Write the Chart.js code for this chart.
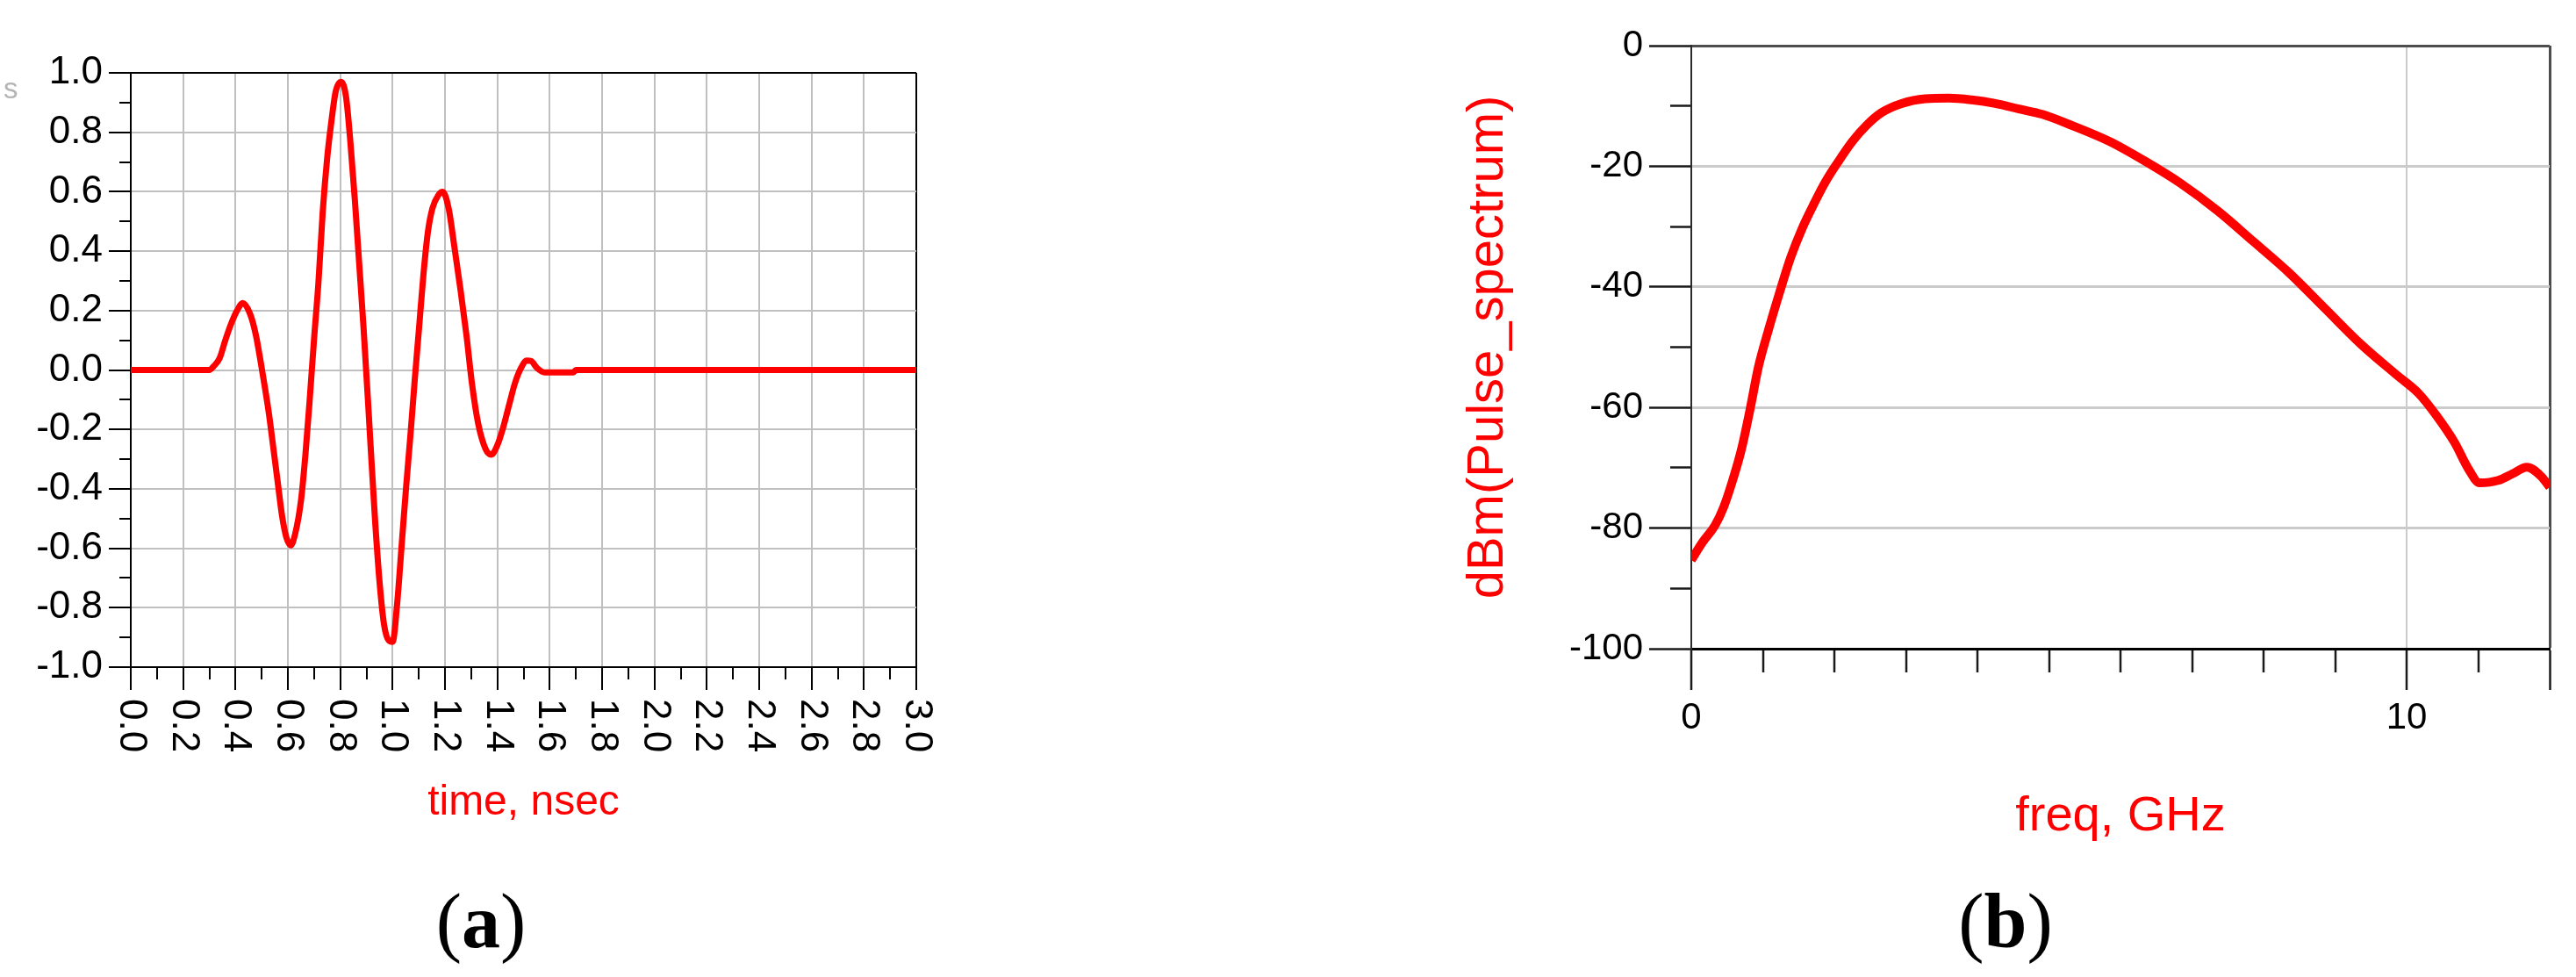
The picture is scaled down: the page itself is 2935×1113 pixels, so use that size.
<!DOCTYPE html>
<html>
<head>
<meta charset="utf-8">
<title>Pulse and spectrum</title>
<script src="https://cdn.jsdelivr.net/npm/chart.js@4.4.1/dist/chart.umd.min.js"></script>
<style>
  html, body { margin: 0; padding: 0; background: #fff; overflow: hidden; }
  body { width: 2935px; height: 1113px; position: relative; font-family: 'Liberation Sans', Arial, sans-serif; }
  canvas { position: absolute; top: 0; }
  #pulseChart { left: 0; }
  #spectrumChart { left: 1600px; }
  .panel-tag { position: absolute; top: 1006px; width: 200px; text-align: center;
    font-family: 'Liberation Serif', 'Times New Roman', serif; font-size: 88px; line-height: 88px; color: #000; }
  .panel-tag b { font-weight: bold; }
  #stray { position: absolute; left: 4px; top: 84px; font-size: 33px; line-height: 33px; color: #b4b4b4; }
</style>
</head>
<body>
<canvas id="pulseChart" width="1100" height="1000"></canvas>
<canvas id="spectrumChart" width="1335" height="1000"></canvas>
<div id="stray">s</div>
<div class="panel-tag" style="left:448px">(<b>a</b>)</div>
<div class="panel-tag" style="left:2185px">(<b>b</b>)</div>
<script>
// (a) time-domain pulse
const timeNs = [0, 0.30, 0.317, 0.339, 0.361, 0.383, 0.406, 0.428, 0.456, 0.478,
  0.494, 0.511, 0.528, 0.544, 0.561, 0.578, 0.594, 0.611, 0.628, 0.65,
  0.667, 0.683, 0.70, 0.717, 0.733, 0.75, 0.767, 0.783, 0.803, 0.822,
  0.839, 0.856, 0.872, 0.889, 0.906, 0.917, 0.933, 0.95, 0.967, 0.985,
  1.0, 1.017, 1.034, 1.051, 1.068, 1.084, 1.101, 1.118, 1.135, 1.152,
  1.175, 1.191, 1.214, 1.236, 1.259, 1.282, 1.304, 1.327, 1.355, 1.377,
  1.40, 1.422, 1.445, 1.467, 1.49, 1.512, 1.529, 1.552, 1.58, 1.69,
  1.70, 3.0];
const pulseV = [0, 0, 0.013, 0.039, 0.10, 0.155, 0.20, 0.225, 0.188, 0.117,
  0.039, -0.052, -0.149, -0.259, -0.376, -0.492, -0.563, -0.59, -0.551, -0.44,
  -0.285, -0.104, 0.104, 0.298, 0.531, 0.712, 0.842, 0.939, 0.97, 0.92,
  0.764, 0.57, 0.363, 0.142, -0.104, -0.272, -0.505, -0.712, -0.855, -0.91,
  -0.915, -0.79, -0.596, -0.40, -0.22, -0.039, 0.142, 0.324, 0.466, 0.544,
  0.589, 0.60, 0.544, 0.414, 0.272, 0.117, -0.052, -0.181, -0.266, -0.285,
  -0.253, -0.194, -0.117, -0.045, 0.006, 0.032, 0.03, 0.006, -0.008, -0.008,
  0, 0];
const timeTickLabels = ['0.0', '0.2', '0.4', '0.6', '0.8', '1.0', '1.2', '1.4',
  '1.6', '1.8', '2.0', '2.2', '2.4', '2.6', '2.8', '3.0'];
const voltTickLabels = ['-1.0', '-0.8', '-0.6', '-0.4', '-0.2', '0.0',
  '0.2', '0.4', '0.6', '0.8', '1.0'];

// (b) spectrum
const freqGHz = [0, 0.16, 0.33, 0.45, 0.57, 0.70, 0.82, 0.94, 1.08, 1.23,
  1.39, 1.55, 1.72, 1.88, 2.04, 2.25, 2.45, 2.66, 2.94, 3.27,
  3.60, 3.92, 4.25, 4.58, 4.91, 5.25, 5.85, 6.35, 6.85, 7.36,
  7.86, 8.36, 8.86, 9.37, 9.87, 10.17, 10.42, 10.67, 10.87, 11.02,
  11.28, 11.48, 11.68, 11.88, 12.0];
const spectrumDbm = [-85.3, -82.3, -79.6, -76.6, -72.4, -67, -60.4, -53.2, -47.1, -41.1,
  -35.1, -30.3, -26.1, -22.5, -19.5, -15.9, -13.2, -11.1, -9.6, -8.8,
  -8.7, -9.0, -9.6, -10.5, -11.4, -12.9, -15.9, -19.2, -22.9, -27.4,
  -32.5, -37.7, -43.6, -49.6, -54.7, -57.7, -61.4, -65.8, -70.3, -72.5,
  -72.1, -71, -69.9, -71.4, -73.2];
const freqTickValues = [0, 10];
const freqTickLabels = ['0', '10'];
const dbmTickLabels = ['-100', '-80', '-60', '-40', '-20', '0'];

Chart.defaults.font.family = "'Liberation Sans', Arial, sans-serif";
Chart.defaults.color = '#000';

var RED = '#ff0000';
var GRID_A = '#c0c0c0';
var GRID_B = '#cbcbcb';

function xyPoints(xs, ys) {
  return xs.map(function (x, i) { return { x: x, y: ys[i] }; });
}

// x tick labels of (a) read top-to-bottom, which Chart.js rotation can't do
var rotatedTimeLabels = {
  id: 'rotatedTimeLabels',
  afterDraw: function (chart) {
    var ctx = chart.ctx;
    var xs = chart.scales.x;
    ctx.save();
    ctx.font = "44px 'Liberation Sans', Arial, sans-serif";
    ctx.fillStyle = '#000';
    ctx.textAlign = 'left';
    ctx.textBaseline = 'middle';
    timeTickLabels.forEach(function (lbl) {
      var px = xs.getPixelForValue(parseFloat(lbl));
      ctx.save();
      ctx.translate(px, xs.top + 36);
      ctx.rotate(Math.PI / 2);
      ctx.fillText(lbl, 0, 0);
      ctx.restore();
    });
    ctx.restore();
  }
};

/* ---------------- (a) pulse ---------------- */
new Chart(document.getElementById('pulseChart'), {
  type: 'line',
  data: {
    datasets: [{
      data: xyPoints(timeNs, pulseV),
      borderColor: RED,
      borderWidth: 7,
      pointRadius: 0,
      cubicInterpolationMode: 'monotone',
      fill: false
    }]
  },
  options: {
    responsive: false,
    animation: false,
    devicePixelRatio: 1,
    layout: { padding: { top: 83, right: 56, left: 0, bottom: 0 } },
    plugins: { legend: { display: false }, tooltip: { enabled: false } },
    scales: {
      x: {
        type: 'linear', min: 0, max: 3,
        afterFit: function (s) { s.height = 240; },
        ticks: { stepSize: 0.1, autoSkip: false, maxRotation: 0, padding: 0,
          callback: function () { return ''; } },
        grid: {
          lineWidth: 2,
          tickLength: 26,
          tickWidth: 2,
          tickColor: '#000',
          color: function (c) {
            var k = Math.round(c.tick.value * 10);
            if (k === 0 || k === 30) return '#000';
            return k % 2 === 0 ? GRID_A : 'rgba(0,0,0,0)';
          },
          tickBorderDash: function (c) {
            return Math.round(c.tick.value * 10) % 2 === 0 ? [] : [13, 1000];
          }
        },
        border: { color: '#000', width: 2 },
        title: { display: true, text: 'time, nsec', color: RED,
          font: { size: 48 }, padding: { top: 0, bottom: 56 } }
      },
      y: {
        type: 'linear', min: -1, max: 1,
        afterFit: function (s) { s.width = 149; },
        ticks: { stepSize: 0.1, autoSkip: false, padding: 7, font: { size: 44 }, color: '#000',
          callback: function (v) {
            var k = Math.round(v * 10);
            return k % 2 === 0 ? voltTickLabels[(k + 10) / 2] : '';
          } },
        grid: {
          lineWidth: 2,
          tickLength: 25,
          tickWidth: 2,
          tickColor: '#000',
          color: function (c) {
            var k = Math.round(c.tick.value * 10);
            if (k === 10 || k === -10) return '#000';
            return k % 2 === 0 ? GRID_A : 'rgba(0,0,0,0)';
          },
          tickBorderDash: function (c) {
            return Math.round(c.tick.value * 10) % 2 === 0 ? [] : [0, 12, 14, 1000];
          }
        },
        border: { color: '#000', width: 2 }
      }
    }
  },
  plugins: [rotatedTimeLabels]
});

/* ---------------- (b) spectrum ---------------- */
new Chart(document.getElementById('spectrumChart'), {
  type: 'line',
  data: {
    datasets: [{
      data: xyPoints(freqGHz, spectrumDbm),
      borderColor: RED,
      borderWidth: 10,
      pointRadius: 0,
      cubicInterpolationMode: 'monotone',
      borderJoinStyle: 'round',
      fill: false
    }]
  },
  options: {
    responsive: false,
    animation: false,
    devicePixelRatio: 1,
    layout: { padding: { top: 52, right: 30, left: 0, bottom: 0 } },
    plugins: { legend: { display: false }, tooltip: { enabled: false } },
    scales: {
      x: {
        type: 'linear', min: 0, max: 12,
        afterFit: function (s) { s.height = 261; },
        ticks: { stepSize: 1, autoSkip: false, maxRotation: 0, padding: 7,
          font: { size: 42 }, color: '#000',
          callback: function (v) {
            var i = freqTickValues.indexOf(Math.round(v));
            return i >= 0 ? freqTickLabels[i] : '';
          } },
        grid: {
          lineWidth: function (c) { return c.tick.value === 12 ? 3 : 2; },
          tickLength: 47,
          tickWidth: 2.5,
          tickColor: '#1a1a1a',
          color: function (c) {
            var v = Math.round(c.tick.value);
            if (v === 12) return '#4d4d4d';
            if (v === 10) return GRID_B;
            return 'rgba(0,0,0,0)';
          },
          tickBorderDash: function (c) {
            var v = Math.round(c.tick.value);
            return (v === 0 || v === 10 || v === 12) ? [] : [25, 1000];
          }
        },
        border: { color: '#000', width: 3 },
        title: { display: true, text: 'freq, GHz', color: RED,
          font: { size: 56 }, padding: { top: 0, bottom: 36 } }
      },
      y: {
        type: 'linear', min: -100, max: 0,
        afterFit: function (s) { s.width = 327; },
        ticks: { stepSize: 10, autoSkip: false, padding: 7, font: { size: 42 }, color: '#000',
          callback: function (v) {
            var k = Math.round(v / 10);
            return k % 2 === 0 ? dbmTickLabels[(k + 10) / 2] : '';
          } },
        grid: {
          lineWidth: 3,
          tickLength: 48,
          tickWidth: 2.5,
          tickColor: '#1a1a1a',
          color: function (c) {
            var k = Math.round(c.tick.value / 10);
            if (k === 0) return '#4d4d4d';
            if (k === -10) return '#000';
            return k % 2 === 0 ? GRID_B : 'rgba(0,0,0,0)';
          },
          tickBorderDash: function (c) {
            return Math.round(c.tick.value / 10) % 2 === 0 ? [] : [0, 24, 26, 1000];
          }
        },
        border: { color: '#2a2a2a', width: 2 },
        title: { display: true, text: 'dBm(Pulse_spectrum)', color: RED,
          font: { size: 58 }, padding: { top: 61, bottom: 0 } }
      }
    }
  }
});
</script>
</body>
</html>
